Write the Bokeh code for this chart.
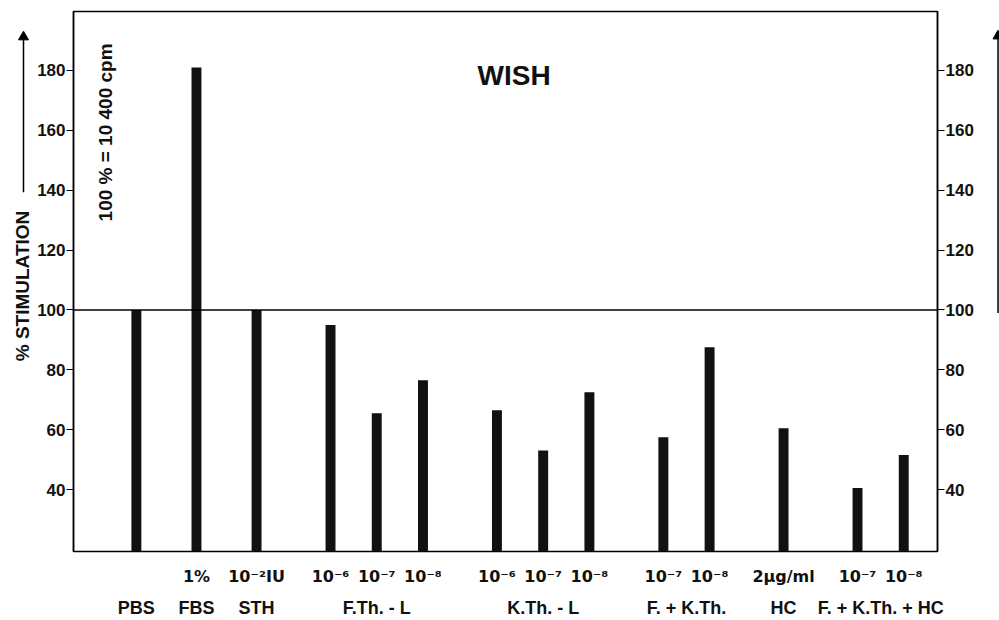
import math
from bokeh.plotting import figure
from bokeh.layouts import row
from bokeh.models import (ColumnDataSource, Range1d, FixedTicker, LinearAxis, Span, Label)
from bokeh.core.properties import value
from bokeh.embed import file_html
from bokeh.resources import INLINE

# ---------------- data ----------------
groups = ["PBS", "FBS", "STH", "F.Th. - L", "K.Th. - L", "F. + K.Th.", "HC", "F. + K.Th. + HC"]
doses = [[""], ["1%"], ["10⁻²IU"],
         ["10⁻⁶", "10⁻⁷", "10⁻⁸"],
         ["10⁻⁶", "10⁻⁷", "10⁻⁸"],
         ["10⁻⁷", "10⁻⁸"],
         ["2μg/ml"],
         ["10⁻⁷", "10⁻⁸"]]
values = [[100], [181], [100],
          [95, 65.5, 76.5],
          [66.5, 53, 72.5],
          [57.5, 87.5],
          [60.5],
          [40.5, 51.5]]
y_ticks = [40, 60, 80, 100, 120, 140, 160, 180]

# ---------------- layout rule (x positions derived from grouping) ----------------
STEP = 10          # distance between bars of one group
GAP = 6            # extra gap between groups
GAP_SINGLES = 3    # extra gap between two single-bar groups
xs, labels1, tops, centers = [], [], [], []
pos = None
for gi, vals in enumerate(values):
    if pos is None:
        pos = 0
    else:
        both_single = len(vals) == 1 and len(values[gi - 1]) == 1
        pos += STEP + (GAP_SINGLES if both_single else GAP)
    start = pos
    for j, v in enumerate(vals):
        if j > 0:
            pos += STEP
        xs.append(pos)
        tops.append(v)
        labels1.append(doses[gi][j])
    centers.append((start + pos) // 2)

Y0, Y1 = 19.3, 199.7
FONT = "Liberation Sans"
INK = "#111111"
H = 620
TOP, BOTTOM = 11, 68
LEFT_W, RIGHT_W = 34, 17

yr = Range1d(Y0, Y1)

# ---------------- main chart ----------------
p = figure(width=999 - LEFT_W - RIGHT_W, height=H, x_range=Range1d(-13.6, 173.3), y_range=yr,
           output_backend="svg", toolbar_location=None,
           x_axis_location=None, y_axis_location=None,
           min_border_left=70 - LEFT_W, min_border_right=999 - RIGHT_W - 937,
           min_border_top=TOP, min_border_bottom=BOTTOM)
p.grid.visible = False
p.outline_line_color = "black"
p.outline_line_width = 1.5

src = ColumnDataSource(dict(x=xs, top=tops))
p.vbar(x="x", top="top", bottom=Y0, width=2.15, source=src,
       fill_color=INK, line_color=None)

p.add_layout(Span(location=100, dimension="width", line_color="black", line_width=1.5))

def style_axis(ax, size="17px", font=FONT):
    ax.major_label_text_font = font
    ax.major_label_text_font_style = "bold"
    ax.major_label_text_font_size = size
    ax.major_label_text_color = INK
    ax.minor_tick_line_color = None
    ax.major_tick_in = 0

for side in ("left", "right"):
    ax = LinearAxis(ticker=FixedTicker(ticks=y_ticks))
    style_axis(ax)
    ax.major_tick_out = 7
    ax.major_label_standoff = 1
    ax.axis_line_width = 1.5
    ax.major_tick_line_width = 1.2
    p.add_layout(ax, side)

row1 = LinearAxis(ticker=FixedTicker(ticks=xs),
                  major_label_overrides={x: l for x, l in zip(xs, labels1)})
style_axis(row1, "16px", "DejaVu Sans")
row1.major_tick_out = 0
row1.major_tick_line_color = None
row1.axis_line_color = None
row1.major_label_standoff = 15
p.add_layout(row1, "below")

row2 = LinearAxis(ticker=FixedTicker(ticks=centers),
                  major_label_overrides={c: g for c, g in zip(centers, groups)})
style_axis(row2, "18px")
row2.major_tick_out = 0
row2.major_tick_line_color = None
row2.axis_line_color = None
row2.major_label_standoff = 9
p.add_layout(row2, "below")

p.add_layout(Label(x=81.7, y=178.3, text="WISH", text_font=FONT, text_font_style="bold",
                   text_font_size="28px", text_align="center", text_baseline="middle",
                   text_color=INK))
p.add_layout(Label(x=-6.6, y=159.3, text="100 % = 10 400 cpm", angle=math.pi / 2,
                   text_font=FONT, text_font_style="bold", text_font_size="19px",
                   text_align="center", text_baseline="middle", text_color=INK))

# ---------------- side strips: axis title and arrows ----------------
def strip(width):
    s = figure(width=width, height=H, x_range=Range1d(0, width), y_range=yr,
               output_backend="svg", toolbar_location=None,
               x_axis_location=None, y_axis_location=None,
               min_border_left=0, min_border_right=0, min_border_top=TOP, min_border_bottom=BOTTOM)
    s.grid.visible = False
    s.outline_line_color = None
    return s

left = strip(LEFT_W)
left.segment(x0=[23], y0=[139.3], x1=[23], y1=[190.5], line_color="black", line_width=1.5)
left.scatter(x=[23], y=[191.2], marker="triangle", size=10, fill_color="black", line_color="black")
left.text(x=[22], y=[108], text=["% STIMULATION"], angle=math.pi / 2,
          text_font=value(FONT), text_font_style="bold", text_font_size="19px",
          text_align="center", text_baseline="middle", text_color=INK)

right = strip(RIGHT_W)
right.segment(x0=[15.5], y0=[99.0], x1=[15.5], y1=[190.5], line_color="black", line_width=1.5)
right.scatter(x=[15.5], y=[191.5], marker="triangle", size=10, fill_color="black", line_color="black")

layout = row(left, p, right)
open("out.html", "w").write(file_html(layout, INLINE))
